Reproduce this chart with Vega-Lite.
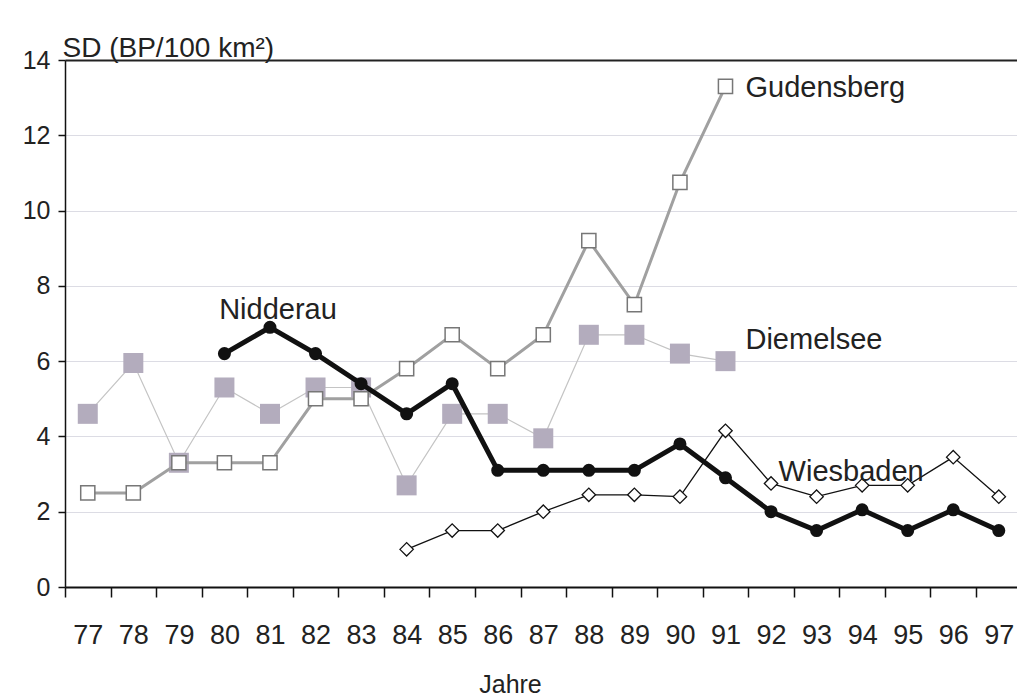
{
  "$schema": "https://vega.github.io/schema/vega-lite/v6.json",
  "width": 952,
  "height": 527,
  "autosize": "none",
  "padding": {"left": 65, "top": 60, "right": 0, "bottom": 111},
  "background": "white",
  "config": {"view": {"stroke": null}, "font": "Liberation Sans"},
  "data": {
    "values": [
      {"series": "Gudensberg", "year": 77, "value": 2.5},
      {"series": "Gudensberg", "year": 78, "value": 2.5},
      {"series": "Gudensberg", "year": 79, "value": 3.3},
      {"series": "Gudensberg", "year": 80, "value": 3.3},
      {"series": "Gudensberg", "year": 81, "value": 3.3},
      {"series": "Gudensberg", "year": 82, "value": 5.0},
      {"series": "Gudensberg", "year": 83, "value": 5.0},
      {"series": "Gudensberg", "year": 84, "value": 5.8},
      {"series": "Gudensberg", "year": 85, "value": 6.7},
      {"series": "Gudensberg", "year": 86, "value": 5.8},
      {"series": "Gudensberg", "year": 87, "value": 6.7},
      {"series": "Gudensberg", "year": 88, "value": 9.2},
      {"series": "Gudensberg", "year": 89, "value": 7.5},
      {"series": "Gudensberg", "year": 90, "value": 10.75},
      {"series": "Gudensberg", "year": 91, "value": 13.3},
      {"series": "Diemelsee", "year": 77, "value": 4.6},
      {"series": "Diemelsee", "year": 78, "value": 5.95},
      {"series": "Diemelsee", "year": 79, "value": 3.3},
      {"series": "Diemelsee", "year": 80, "value": 5.3},
      {"series": "Diemelsee", "year": 81, "value": 4.6},
      {"series": "Diemelsee", "year": 82, "value": 5.3},
      {"series": "Diemelsee", "year": 83, "value": 5.3},
      {"series": "Diemelsee", "year": 84, "value": 2.7},
      {"series": "Diemelsee", "year": 85, "value": 4.6},
      {"series": "Diemelsee", "year": 86, "value": 4.6},
      {"series": "Diemelsee", "year": 87, "value": 3.95},
      {"series": "Diemelsee", "year": 88, "value": 6.7},
      {"series": "Diemelsee", "year": 89, "value": 6.7},
      {"series": "Diemelsee", "year": 90, "value": 6.2},
      {"series": "Diemelsee", "year": 91, "value": 6.0},
      {"series": "Nidderau", "year": 80, "value": 6.2},
      {"series": "Nidderau", "year": 81, "value": 6.9},
      {"series": "Nidderau", "year": 82, "value": 6.2},
      {"series": "Nidderau", "year": 83, "value": 5.4},
      {"series": "Nidderau", "year": 84, "value": 4.6},
      {"series": "Nidderau", "year": 85, "value": 5.4},
      {"series": "Nidderau", "year": 86, "value": 3.1},
      {"series": "Nidderau", "year": 87, "value": 3.1},
      {"series": "Nidderau", "year": 88, "value": 3.1},
      {"series": "Nidderau", "year": 89, "value": 3.1},
      {"series": "Nidderau", "year": 90, "value": 3.8},
      {"series": "Nidderau", "year": 91, "value": 2.9},
      {"series": "Nidderau", "year": 92, "value": 2.0},
      {"series": "Nidderau", "year": 93, "value": 1.5},
      {"series": "Nidderau", "year": 94, "value": 2.05},
      {"series": "Nidderau", "year": 95, "value": 1.5},
      {"series": "Nidderau", "year": 96, "value": 2.05},
      {"series": "Nidderau", "year": 97, "value": 1.5},
      {"series": "Wiesbaden", "year": 84, "value": 1.0},
      {"series": "Wiesbaden", "year": 85, "value": 1.5},
      {"series": "Wiesbaden", "year": 86, "value": 1.5},
      {"series": "Wiesbaden", "year": 87, "value": 2.0},
      {"series": "Wiesbaden", "year": 88, "value": 2.45},
      {"series": "Wiesbaden", "year": 89, "value": 2.45},
      {"series": "Wiesbaden", "year": 90, "value": 2.4},
      {"series": "Wiesbaden", "year": 91, "value": 4.15},
      {"series": "Wiesbaden", "year": 92, "value": 2.75},
      {"series": "Wiesbaden", "year": 93, "value": 2.4},
      {"series": "Wiesbaden", "year": 94, "value": 2.7},
      {"series": "Wiesbaden", "year": 95, "value": 2.7},
      {"series": "Wiesbaden", "year": 96, "value": 3.45},
      {"series": "Wiesbaden", "year": 97, "value": 2.4}
    ]
  },
  "encoding": {
    "x": {
      "field": "year",
      "type": "quantitative",
      "scale": {"domain": [76.5, 97.4], "nice": false, "zero": false},
      "axis": {
        "values": [76.5, 77.5, 78.5, 79.5, 80.5, 81.5, 82.5, 83.5, 84.5, 85.5, 86.5, 87.5, 88.5, 89.5, 90.5, 91.5, 92.5, 93.5, 94.5, 95.5, 96.5],
        "labelExpr": "format(datum.value + 0.5, 'd')",
        "labelOffset": 22.8,
        "labelFlush": false,
        "labelOverlap": false,
        "labelFont": "Liberation Sans Narrow, Liberation Sans",
        "labelFontSize": 27,
        "labelColor": "#222",
        "labelPadding": 25,
        "tickSize": 10,
        "tickColor": "#111",
        "tickWidth": 1.5,
        "domainColor": "#111",
        "domainWidth": 2,
        "grid": false,
        "title": "Jahre",
        "titleFontSize": 25,
        "titleFontWeight": "normal",
        "titleColor": "#222",
        "titleX": 445,
        "titleY": 105,
        "titleAlign": "center",
        "titleBaseline": "alphabetic"
      }
    },
    "y": {
      "field": "value",
      "type": "quantitative",
      "scale": {"domain": [0, 14], "nice": false},
      "axis": {
        "values": [0, 2, 4, 6, 8, 10, 12, 14],
        "grid": true,
        "gridColor": {"condition": {"test": "datum.value === 14", "value": "#222"}, "value": "#dcdce4"},
        "gridWidth": {"condition": {"test": "datum.value === 14", "value": 2}, "value": 1},
        "tickSize": 7,
        "tickColor": "#111",
        "tickWidth": 1.5,
        "domainColor": "#111",
        "domainWidth": 1.5,
        "labelFontSize": 25,
        "labelColor": "#222",
        "labelPadding": 8,
        "title": "SD (BP/100 km²)",
        "titleAngle": 0,
        "titleX": -3,
        "titleY": -4,
        "titleAlign": "left",
        "titleBaseline": "alphabetic",
        "titleFontSize": 28,
        "titleFontWeight": "normal",
        "titleColor": "#222"
      }
    }
  },
  "layer": [
    {
      "transform": [{"filter": "datum.series === 'Diemelsee'"}],
      "mark": {"type": "line", "color": "#c4c4c4", "strokeWidth": 1.2}
    },
    {
      "transform": [{"filter": "datum.series === 'Diemelsee'"}],
      "mark": {"type": "point", "shape": "square", "filled": true, "fill": "#b3acbd", "size": 400, "opacity": 1}
    },
    {
      "transform": [{"filter": "datum.series === 'Gudensberg'"}],
      "mark": {"type": "line", "color": "#a0a0a0", "strokeWidth": 3}
    },
    {
      "transform": [{"filter": "datum.series === 'Gudensberg'"}],
      "mark": {"type": "point", "shape": "square", "filled": true, "fill": "white", "stroke": "#777", "strokeWidth": 1.5, "size": 200, "opacity": 1}
    },
    {
      "transform": [{"filter": "datum.series === 'Wiesbaden'"}],
      "mark": {"type": "line", "color": "#111", "strokeWidth": 1.3}
    },
    {
      "transform": [{"filter": "datum.series === 'Wiesbaden'"}],
      "mark": {"type": "point", "shape": "diamond", "filled": true, "fill": "white", "stroke": "#111", "strokeWidth": 1.3, "size": 180, "opacity": 1}
    },
    {
      "transform": [{"filter": "datum.series === 'Nidderau'"}],
      "mark": {"type": "line", "color": "#111", "strokeWidth": 5}
    },
    {
      "transform": [{"filter": "datum.series === 'Nidderau'"}],
      "mark": {"type": "point", "shape": "circle", "filled": true, "fill": "#111", "size": 170, "opacity": 1}
    },
    {
      "transform": [{"filter": "datum.series === 'Gudensberg' && datum.year === 91"}],
      "mark": {"type": "text", "align": "left", "baseline": "middle", "dx": 20, "dy": 2, "fontSize": 29, "color": "#222"},
      "encoding": {"text": {"field": "series"}}
    },
    {
      "transform": [{"filter": "datum.series === 'Diemelsee' && datum.year === 91"}],
      "mark": {"type": "text", "align": "left", "baseline": "middle", "dx": 20, "dy": -21, "fontSize": 29, "color": "#222"},
      "encoding": {"text": {"field": "series"}}
    },
    {
      "transform": [{"filter": "datum.series === 'Nidderau' && datum.year === 81"}],
      "mark": {"type": "text", "align": "center", "baseline": "middle", "dx": 8, "dy": -17, "fontSize": 29, "color": "#222"},
      "encoding": {"text": {"field": "series"}}
    },
    {
      "transform": [{"filter": "datum.series === 'Wiesbaden' && datum.year === 94"}],
      "mark": {"type": "text", "align": "center", "baseline": "middle", "dx": -11, "dy": -13, "fontSize": 29, "color": "#222"},
      "encoding": {"text": {"field": "series"}}
    }
  ]
}
